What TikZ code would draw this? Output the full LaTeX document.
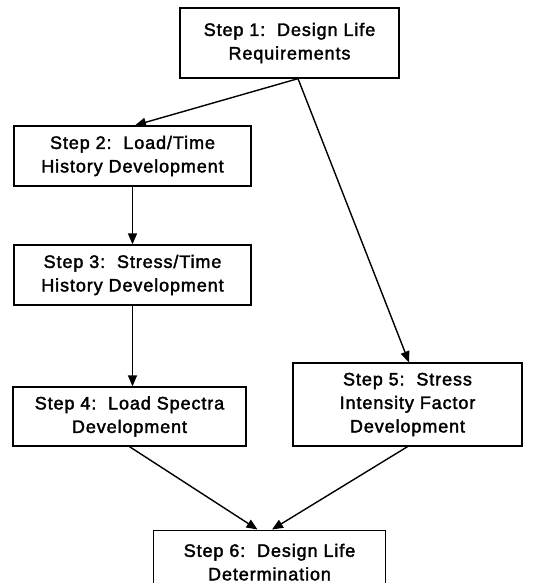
\documentclass[tikz,border=0pt]{standalone}
\usepackage{fontspec}
\setmainfont{Liberation Sans}[LetterSpace=5,FakeBold=2]
\usetikzlibrary{arrows.meta}
\begin{document}
\begin{tikzpicture}[x=1pt,y=-1pt,
  stepbox/.style={draw=black,line width=1.3pt,fill=white,inner sep=0pt,align=center,
    font=\fontsize{18}{23.5}\selectfont},
  conn/.style={line width=1.4pt,-{Triangle[length=11pt,width=9pt]}}]
\useasboundingbox (0,0) rectangle (533,583);
\clip (0,0) rectangle (533,583);
\fill[white] (0,0) rectangle (533,583);
\node[stepbox,minimum width=219pt,minimum height=70pt] (b1) at (289.5,43) {Step 1:\ \ Design Life\\Requirements};
\node[stepbox,minimum width=237pt,minimum height=60pt] (b2) at (132.5,156) {Step 2:\ \ Load/Time\\History Development};
\node[stepbox,minimum width=237pt,minimum height=60pt] (b3) at (132.5,275) {Step 3:\ \ Stress/Time\\History Development};
\node[stepbox,minimum width=233pt,minimum height=59pt] (b4) at (129.5,416.5) {Step 4:\ \ Load Spectra\\Development};
\node[stepbox,minimum width=229pt,minimum height=83pt] (b5) at (407.5,404.5) {Step 5:\ \ Stress\\Intensity Factor\\Development};
\node[stepbox,minimum width=232pt,minimum height=64pt,anchor=north] (b6) at (269.5,529.5) {Step 6:\ \ Design Life\\Determination};
\draw[conn] ([xshift=8.5pt]b1.south) -- ([xshift=2.5pt]b2.north);
\draw[conn] ([xshift=8.5pt]b1.south) -- ([xshift=1.5pt]b5.north);
\draw[conn] (b2.south) -- (b3.north);
\draw[conn] (b3.south) -- (b3.south |- b4.north);
\draw[conn] (b4.south) -- ([xshift=-12pt]b6.north);
\draw[conn] (b5.south) -- ([xshift=2.5pt]b6.north);
\end{tikzpicture}
\end{document}
